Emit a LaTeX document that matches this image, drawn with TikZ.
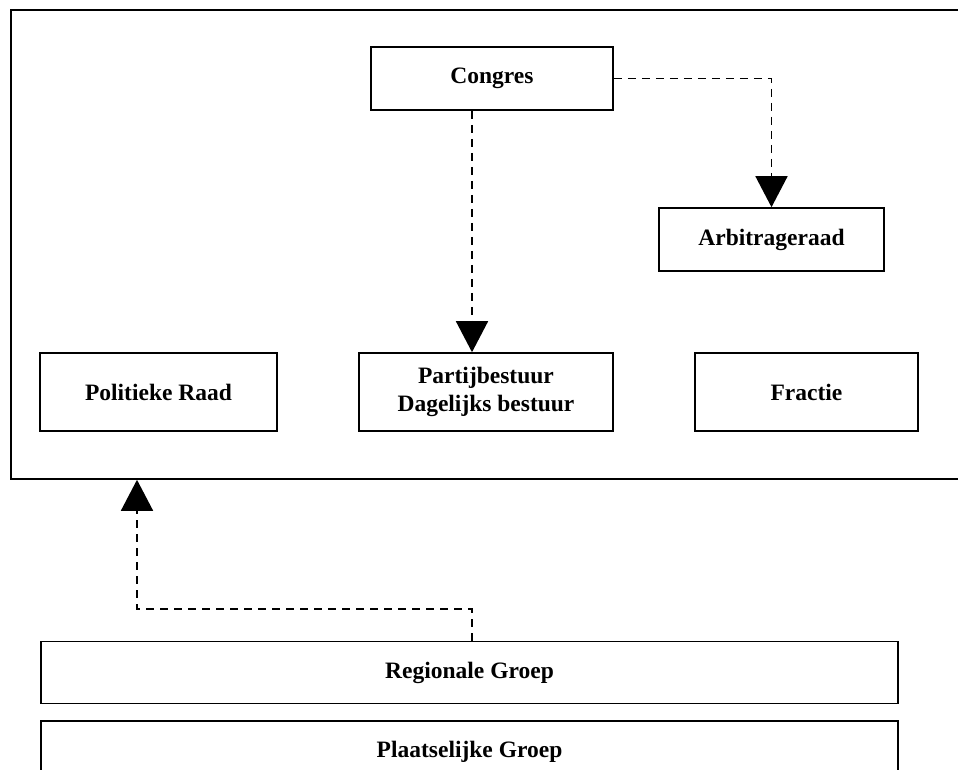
\documentclass[tikz,border=0pt]{standalone}
\usepackage{fontspec}
\setmainfont{Liberation Serif}
\usetikzlibrary{arrows.meta}
\begin{document}
\begin{tikzpicture}[x=1pt,y=-1pt,
    box/.style={draw,line width=1.6pt,inner sep=0pt,align=center,
      font=\fontsize{23.5}{28}\selectfont\bfseries},
    conn/.style={line width=1.6pt,dash pattern=on 8pt off 6pt,
      -{Triangle[length=31pt,width=32pt]}}]
    \clip (0,0) rectangle (958,770);
    % kader rond het landelijk niveau
    \node [draw,line width=1.6pt,minimum width=969pt,minimum height=469pt] (kader) at (495.5,244.5) {};
    \node [box,minimum width=242pt,minimum height=63pt] (congres) at (492,78.5) {Congres};
    \node [box,minimum width=225pt,minimum height=63pt] (arbitrage) at (771.5,239.5) {Arbitrageraad};
    \node [box,minimum width=237pt,minimum height=78pt] (politiek) at (158.5,392) {Politieke Raad};
    \node [box,minimum width=254pt,minimum height=78pt] (partij) at (486,392) {Partijbestuur\\Dagelijks bestuur};
    \node [box,minimum width=223pt,minimum height=78pt] (fractie) at (806.5,392) {Fractie};
    \node [box,minimum width=857pt,minimum height=62pt] (regio) at (469.5,672.5) {Regionale Groep};
    \node [box,minimum width=857pt,minimum height=62pt] (plaats) at (469.5,752) {Plaatselijke Groep};
    \coordinate (knik) at (137,609);
    \draw[conn] (congres.east) -| (arbitrage.north);
    \draw[conn] ([xshift=-20pt]congres.south) -- ([xshift=-14pt]partij.north);
    \draw[conn] ([xshift=2.5pt]regio.north) |- (knik) -- (knik |- kader.south);
  \end{tikzpicture}
\end{document}
